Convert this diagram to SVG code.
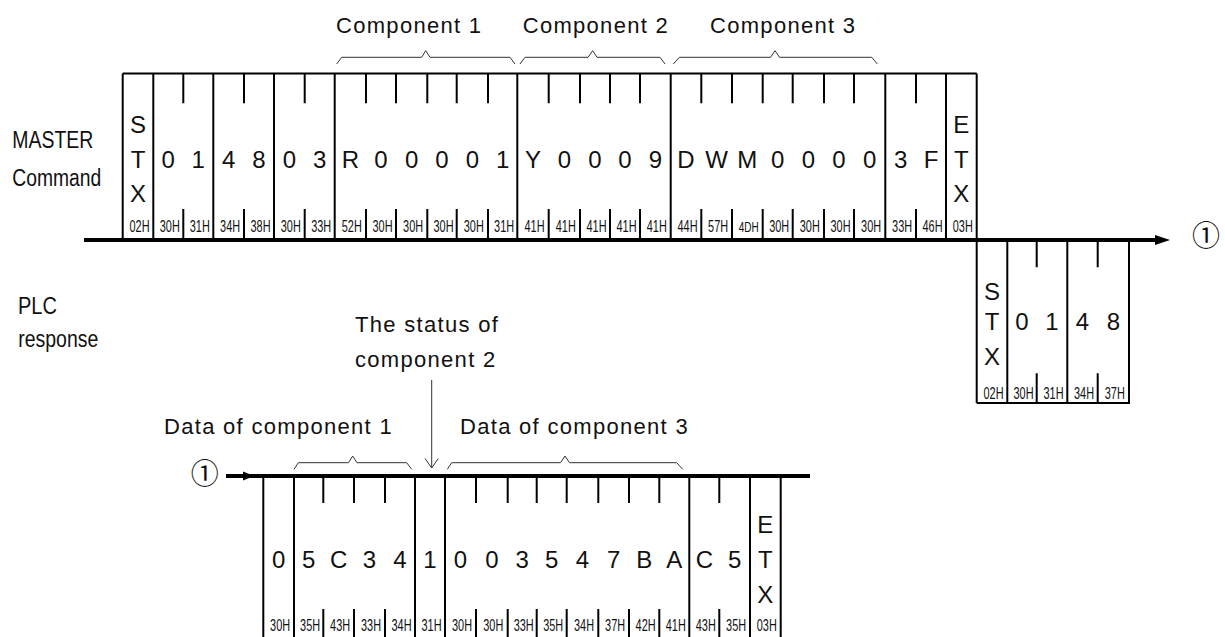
<svg xmlns="http://www.w3.org/2000/svg" width="1225" height="637" viewBox="0 0 1225 637">
<style>
.fr{stroke:#000;stroke-width:2;fill:none}
.tk{stroke:#000;stroke-width:2}
.base{stroke:#000;stroke-width:4;fill:none}
.thin{stroke:#333;stroke-width:1;fill:none}
text{font-family:"Liberation Sans",Arial,sans-serif;fill:#111}
.ch{font-size:24px;text-anchor:middle}
.hx{font-size:17px;text-anchor:middle}
.lb{font-size:23px}
.cap{font-size:22px;letter-spacing:1.3px}
.c1{font-family:"Noto Sans CJK JP","DejaVu Sans",sans-serif;font-size:28px;text-anchor:middle}
</style>

<g id="labels">
<text class="lb" x="12.3" y="148" textLength="81" lengthAdjust="spacingAndGlyphs">MASTER</text>
<text class="lb" x="12.3" y="186" textLength="89" lengthAdjust="spacingAndGlyphs">Command</text>
<text class="lb" x="18" y="314" textLength="39" lengthAdjust="spacingAndGlyphs">PLC</text>
<text class="lb" x="18.3" y="347" textLength="80" lengthAdjust="spacingAndGlyphs">response</text>
<text class="cap" x="336" y="33">Component 1</text>
<text class="cap" x="522.7" y="33">Component 2</text>
<text class="cap" x="710" y="33">Component 3</text>
<text class="cap" x="355" y="331.7">The status of</text>
<text class="cap" x="355" y="366.7">component 2</text>
<text class="cap" x="164" y="434">Data of component 1</text>
<text class="cap" x="460" y="434">Data of component 3</text>
<text class="c1" x="1206" y="246">①</text>
<text class="c1" x="204.7" y="484">①</text>
</g>

<g id="master-frame">
<line class="fr" x1="122.7" y1="73.5" x2="976.7" y2="73.5"/>
<g class="fr">
<line x1="122.7" y1="73.5" x2="122.7" y2="240"/>
<line x1="153.3" y1="73.5" x2="153.3" y2="240"/>
<line x1="213.3" y1="73.5" x2="213.3" y2="240"/>
<line x1="274" y1="73.5" x2="274" y2="240"/>
<line x1="334.7" y1="73.5" x2="334.7" y2="240"/>
<line x1="517.3" y1="73.5" x2="517.3" y2="240"/>
<line x1="670.7" y1="73.5" x2="670.7" y2="240"/>
<line x1="885.3" y1="73.5" x2="885.3" y2="240"/>
<line x1="946" y1="73.5" x2="946" y2="240"/>
<line x1="976.7" y1="73.5" x2="976.7" y2="403"/>
</g>
<path class="tk" d="M183.3 73.5V103.3M244 73.5V103.3M304.7 73.5V103.3M366 73.5V103.3M396 73.5V103.3M427.3 73.5V103.3M456.7 73.5V103.3M488 73.5V103.3M548.7 73.5V103.3M580 73.5V103.3M610 73.5V103.3M640 73.5V103.3M701.3 73.5V103.3M732 73.5V103.3M762.7 73.5V103.3M792.7 73.5V103.3M824 73.5V103.3M854 73.5V103.3M916 73.5V103.3
M183.3 209V240M244 209V240M304.7 209V240M366 209V240M396 209V240M427.3 209V240M456.7 209V240M488 209V240M548.7 209V240M580 209V240M610 209V240M640 209V240M701.3 209V240M732 209V240M762.7 209V240M792.7 209V240M824 209V240M854 209V240M916 209V240"/>
<text class="ch" x="138" y="133">S</text>
<text class="ch" x="138" y="168">T</text>
<text class="ch" x="138" y="202">X</text>
<text class="ch" x="168.3" y="168">0</text>
<text class="ch" x="198.3" y="168">1</text>
<text class="ch" x="228.65" y="168">4</text>
<text class="ch" x="259" y="168">8</text>
<text class="ch" x="289.35" y="168">0</text>
<text class="ch" x="319.7" y="168">3</text>
<text class="ch" x="350.35" y="168">R</text>
<text class="ch" x="381" y="168">0</text>
<text class="ch" x="411.65" y="168">0</text>
<text class="ch" x="442" y="168">0</text>
<text class="ch" x="472.35" y="168">0</text>
<text class="ch" x="502.65" y="168">1</text>
<text class="ch" x="533" y="168">Y</text>
<text class="ch" x="564.35" y="168">0</text>
<text class="ch" x="595" y="168">0</text>
<text class="ch" x="625" y="168">0</text>
<text class="ch" x="655.35" y="168">9</text>
<text class="ch" x="686" y="168">D</text>
<text class="ch" x="716.65" y="168">W</text>
<text class="ch" x="747.35" y="168">M</text>
<text class="ch" x="777.7" y="168">0</text>
<text class="ch" x="808.35" y="168">0</text>
<text class="ch" x="839" y="168">0</text>
<text class="ch" x="869.65" y="168">0</text>
<text class="ch" x="900.65" y="168">3</text>
<text class="ch" x="931" y="168">F</text>
<text class="ch" x="961.35" y="133">E</text>
<text class="ch" x="961.35" y="168">T</text>
<text class="ch" x="961.35" y="202">X</text>
<g class="hx">
<text x="139.5" y="232" textLength="20" lengthAdjust="spacingAndGlyphs">02H</text>
<text x="169.8" y="232" textLength="20" lengthAdjust="spacingAndGlyphs">30H</text>
<text x="199.8" y="232" textLength="20" lengthAdjust="spacingAndGlyphs">31H</text>
<text x="230.1" y="232" textLength="20" lengthAdjust="spacingAndGlyphs">34H</text>
<text x="260.5" y="232" textLength="20" lengthAdjust="spacingAndGlyphs">38H</text>
<text x="290.8" y="232" textLength="20" lengthAdjust="spacingAndGlyphs">30H</text>
<text x="321.2" y="232" textLength="20" lengthAdjust="spacingAndGlyphs">33H</text>
<text x="351.8" y="232" textLength="20" lengthAdjust="spacingAndGlyphs">52H</text>
<text x="382.5" y="232" textLength="20" lengthAdjust="spacingAndGlyphs">30H</text>
<text x="413.1" y="232" textLength="20" lengthAdjust="spacingAndGlyphs">30H</text>
<text x="443.5" y="232" textLength="20" lengthAdjust="spacingAndGlyphs">30H</text>
<text x="473.8" y="232" textLength="20" lengthAdjust="spacingAndGlyphs">30H</text>
<text x="504.1" y="232" textLength="20" lengthAdjust="spacingAndGlyphs">31H</text>
<text x="534.5" y="232" textLength="20" lengthAdjust="spacingAndGlyphs">41H</text>
<text x="565.8" y="232" textLength="20" lengthAdjust="spacingAndGlyphs">41H</text>
<text x="596.5" y="232" textLength="20" lengthAdjust="spacingAndGlyphs">41H</text>
<text x="626.5" y="232" textLength="20" lengthAdjust="spacingAndGlyphs">41H</text>
<text x="656.8" y="232" textLength="20" lengthAdjust="spacingAndGlyphs">41H</text>
<text x="687.5" y="232" textLength="20" lengthAdjust="spacingAndGlyphs">44H</text>
<text x="718.1" y="232" textLength="20" lengthAdjust="spacingAndGlyphs">57H</text>
<text x="748.8" y="232" textLength="20" lengthAdjust="spacingAndGlyphs" style="font-size:15px">4DH</text>
<text x="779.2" y="232" textLength="20" lengthAdjust="spacingAndGlyphs">30H</text>
<text x="809.8" y="232" textLength="20" lengthAdjust="spacingAndGlyphs">30H</text>
<text x="840.5" y="232" textLength="20" lengthAdjust="spacingAndGlyphs">30H</text>
<text x="871.1" y="232" textLength="20" lengthAdjust="spacingAndGlyphs">30H</text>
<text x="902.1" y="232" textLength="20" lengthAdjust="spacingAndGlyphs">33H</text>
<text x="932.5" y="232" textLength="20" lengthAdjust="spacingAndGlyphs">46H</text>
<text x="962.8" y="232" textLength="20" lengthAdjust="spacingAndGlyphs">03H</text>
</g>
</g>

<g id="plc-frame">
<path class="fr" d="M976.7 403H1129V240M1007.3 240V403M1067.3 240V403"/>
<path class="tk" d="M1036.7 240V267.3M1097.7 240V267.3M1036.7 373.3V403M1097.7 373.3V403"/>
<text class="ch" x="992" y="300">S</text>
<text class="ch" x="992" y="330">T</text>
<text class="ch" x="992" y="365">X</text>
<text class="ch" x="1022" y="330">0</text>
<text class="ch" x="1052" y="330">1</text>
<text class="ch" x="1082.5" y="330">4</text>
<text class="ch" x="1113.35" y="330">8</text>
<g class="hx">
<text x="993.5" y="399" textLength="20" lengthAdjust="spacingAndGlyphs">02H</text>
<text x="1023.5" y="399" textLength="20" lengthAdjust="spacingAndGlyphs">30H</text>
<text x="1053.5" y="399" textLength="20" lengthAdjust="spacingAndGlyphs">31H</text>
<text x="1084" y="399" textLength="20" lengthAdjust="spacingAndGlyphs">34H</text>
<text x="1114.8" y="399" textLength="20" lengthAdjust="spacingAndGlyphs">37H</text>
</g>
</g>

<g id="response-frame">
<path class="fr" d="M263.3 476V637M294 476V637M415 476V637M445 476V637M689.3 476V637M750 476V637M780.7 476V637"/>
<path class="tk" d="M323.3 476V503M354 476V503M385 476V503M476 476V503M507.7 476V503M536.7 476V503M566.7 476V503M598.3 476V503M629 476V503M659.3 476V503M719.3 476V503
M323.3 609V637M354 609V637M385 609V637M476 609V637M507.7 609V637M536.7 609V637M566.7 609V637M598.3 609V637M629 609V637M659.3 609V637M719.3 609V637"/>
<text class="ch" x="278.65" y="568">0</text>
<text class="ch" x="308.65" y="568">5</text>
<text class="ch" x="338.65" y="568">C</text>
<text class="ch" x="369.5" y="568">3</text>
<text class="ch" x="400" y="568">4</text>
<text class="ch" x="430" y="568">1</text>
<text class="ch" x="460.5" y="568">0</text>
<text class="ch" x="491.85" y="568">0</text>
<text class="ch" x="522.2" y="568">3</text>
<text class="ch" x="551.7" y="568">5</text>
<text class="ch" x="582.5" y="568">4</text>
<text class="ch" x="613.65" y="568">7</text>
<text class="ch" x="644.15" y="568">B</text>
<text class="ch" x="674.3" y="568">A</text>
<text class="ch" x="704.3" y="568">C</text>
<text class="ch" x="734.65" y="568">5</text>
<text class="ch" x="765.35" y="533">E</text>
<text class="ch" x="765.35" y="568">T</text>
<text class="ch" x="765.35" y="603">X</text>
<g class="hx">
<text x="280.1" y="631" textLength="20" lengthAdjust="spacingAndGlyphs">30H</text>
<text x="310.1" y="631" textLength="20" lengthAdjust="spacingAndGlyphs">35H</text>
<text x="340.1" y="631" textLength="20" lengthAdjust="spacingAndGlyphs">43H</text>
<text x="371" y="631" textLength="20" lengthAdjust="spacingAndGlyphs">33H</text>
<text x="401.5" y="631" textLength="20" lengthAdjust="spacingAndGlyphs">34H</text>
<text x="431.5" y="631" textLength="20" lengthAdjust="spacingAndGlyphs">31H</text>
<text x="462" y="631" textLength="20" lengthAdjust="spacingAndGlyphs">30H</text>
<text x="493.3" y="631" textLength="20" lengthAdjust="spacingAndGlyphs">30H</text>
<text x="523.7" y="631" textLength="20" lengthAdjust="spacingAndGlyphs">33H</text>
<text x="553.2" y="631" textLength="20" lengthAdjust="spacingAndGlyphs">35H</text>
<text x="584" y="631" textLength="20" lengthAdjust="spacingAndGlyphs">34H</text>
<text x="615.1" y="631" textLength="20" lengthAdjust="spacingAndGlyphs">37H</text>
<text x="645.6" y="631" textLength="20" lengthAdjust="spacingAndGlyphs">42H</text>
<text x="675.8" y="631" textLength="20" lengthAdjust="spacingAndGlyphs">41H</text>
<text x="705.8" y="631" textLength="20" lengthAdjust="spacingAndGlyphs">43H</text>
<text x="736.1" y="631" textLength="20" lengthAdjust="spacingAndGlyphs">35H</text>
<text x="766.8" y="631" textLength="20" lengthAdjust="spacingAndGlyphs">03H</text>
</g>
</g>

<g id="connectors">
<line class="base" x1="84" y1="240" x2="1158" y2="240"/>
<polygon points="1155,235 1170,240 1155,245" fill="#000"/>
<line class="base" x1="226" y1="476" x2="810" y2="476"/>
<polygon points="243,471.5 254,476 243,480.5" fill="#000"/>
<polyline class="thin" points="336.7,64 341.7,57.3 421.7,57.3 425.7,50.7 430,57.3 510,57.3 515,64"/>
<polyline class="thin" points="520,64 525,57.3 588,57.3 592.7,50.7 597,57.3 660,57.3 665,64"/>
<polyline class="thin" points="673.3,64 679.3,57.3 770.5,57.3 775,50.7 779.5,57.3 871.7,57.3 877.3,64"/>
<polyline class="thin" points="294,469.3 298.3,462.7 348.5,462.7 352.7,456 357,462.7 406.7,462.7 411.7,469.3"/>
<polyline class="thin" points="447.3,469.3 451.7,462.7 560.5,462.7 565,456 569.5,462.7 676.7,462.7 682.7,469.3"/>
<line class="thin" x1="431.7" y1="380" x2="431.7" y2="468"/>
<polyline class="thin" points="425,458.5 431.7,468 438.3,458.5"/>
</g>
</svg>
